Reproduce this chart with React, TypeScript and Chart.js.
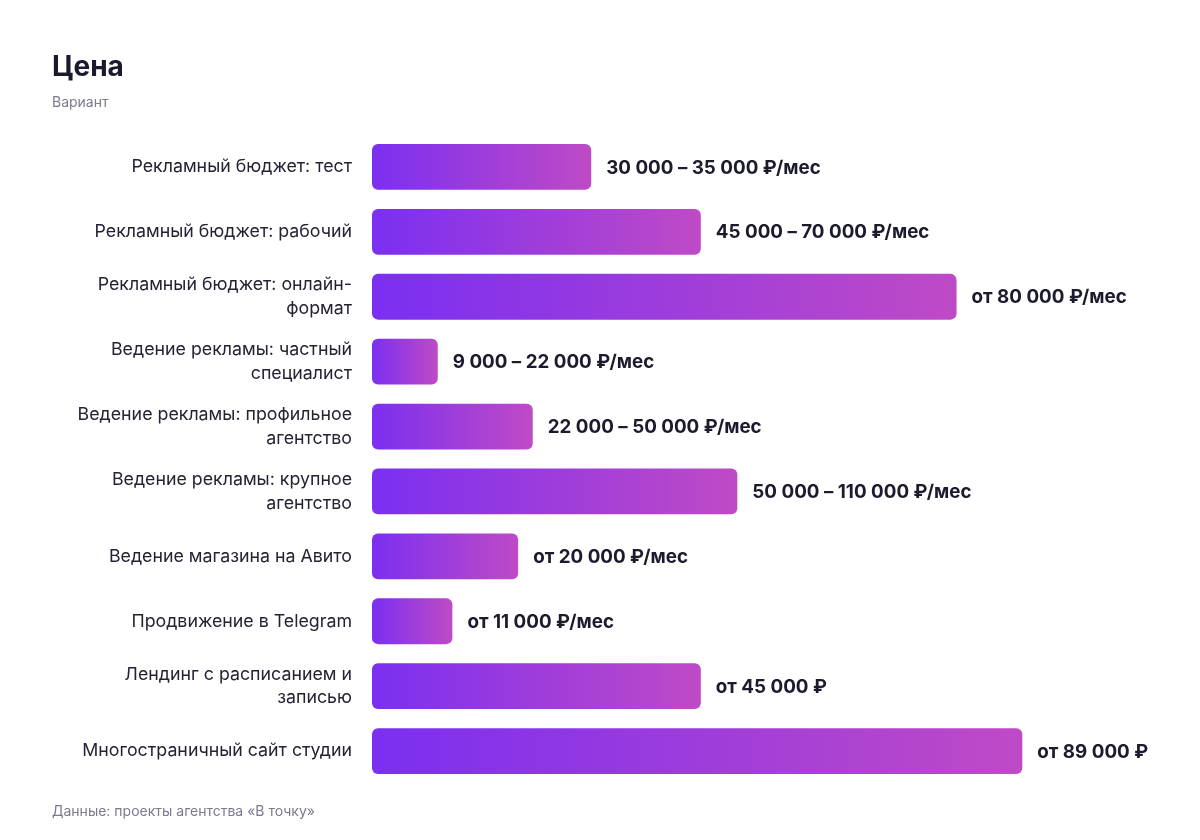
import React, { useEffect, useRef } from "react";
import { Chart, registerables } from "chart.js";

Chart.register(...registerables);

const categories: (string | string[])[] = [
  "Рекламный бюджет: тест",
  "Рекламный бюджет: рабочий",
  ["Рекламный бюджет: онлайн-", "формат"],
  ["Ведение рекламы: частный", "специалист"],
  ["Ведение рекламы: профильное", "агентство"],
  ["Ведение рекламы: крупное", "агентство"],
  "Ведение магазина на Авито",
  "Продвижение в Telegram",
  ["Лендинг с расписанием и", "записью"],
  "Многостраничный сайт студии",
];

const values: number[] = [30000, 45000, 80000, 9000, 22000, 50000, 20000, 11000, 45000, 89000];

const valueLabels: string[] = [
  "30 000 – 35 000 ₽/мес",
  "45 000 – 70 000 ₽/мес",
  "от 80 000 ₽/мес",
  "9 000 – 22 000 ₽/мес",
  "22 000 – 50 000 ₽/мес",
  "50 000 – 110 000 ₽/мес",
  "от 20 000 ₽/мес",
  "от 11 000 ₽/мес",
  "от 45 000 ₽",
  "от 89 000 ₽",
];

const FONT = 'Inter, "Liberation Sans", Arial, sans-serif';
const GRAD_START = "#7B2FF1";
const GRAD_END = "#BF4AC6";

const valueLabelPlugin = {
  id: "valueLabels",
  afterDatasetsDraw(chart: any) {
    const ctx = chart.ctx;
    const meta = chart.getDatasetMeta(0);
    ctx.save();
    ctx.font = `bold 18.8px ${FONT}`;
    ctx.fillStyle = "#1b1b2e";
    ctx.textAlign = "left";
    ctx.textBaseline = "middle";
    meta.data.forEach((el: any, i: number) => {
      ctx.fillText(valueLabels[i], el.x + 15, el.y + 1);
    });
    ctx.restore();
  },
};

export default function App() {
  const canvasRef = useRef<HTMLCanvasElement | null>(null);

  useEffect(() => {
    if (!canvasRef.current) return;
    const chart = new Chart(canvasRef.current, {
      type: "bar",
      data: {
        labels: categories,
        datasets: [
          {
            data: values,
            backgroundColor: (c: any) => {
              const ch = c.chart;
              const xs = ch.scales?.x;
              if (!ch.chartArea || !xs || c.raw == null) return GRAD_START;
              const x0 = xs.getPixelForValue(0);
              const x1 = xs.getPixelForValue(c.raw);
              if (!isFinite(x0) || !isFinite(x1) || x1 <= x0) return GRAD_START;
              const g = ch.ctx.createLinearGradient(x0, 0, x1, 0);
              g.addColorStop(0, GRAD_START);
              g.addColorStop(1, GRAD_END);
              return g;
            },
            borderRadius: 6,
            borderSkipped: false,
            borderWidth: 0,
            barPercentage: 0.705,
            categoryPercentage: 1,
          },
        ],
      },
      options: {
        indexAxis: "y",
        responsive: false,
        animation: false,
        maintainAspectRatio: false,
        layout: { padding: { top: 134.5, bottom: 56.5, left: 52, right: 52 } },
        plugins: {
          legend: { display: false },
          title: { display: false },
          tooltip: { enabled: false },
        },
        scales: {
          x: {
            display: false,
            min: 0,
            max: 106200,
          },
          y: {
            grid: { display: false, drawTicks: false },
            border: { display: false },
            afterFit: (s: any) => {
              s.width = 320;
            },
            ticks: {
              padding: 20,
              color: "#232333",
              font: { family: FONT, size: 17.8, lineHeight: 1.33 },
            },
          },
        },
      },
      plugins: [valueLabelPlugin],
    });
    return () => chart.destroy();
  }, []);

  return (
    <div
      style={{
        position: "fixed",
        left: 0,
        top: 0,
        width: 1200,
        height: 840,
        background: "#ffffff",
        fontFamily: FONT,
      }}
    >
      <canvas
        ref={canvasRef}
        width={1200}
        height={840}
        style={{ position: "absolute", left: 0, top: 0, width: 1200, height: 840 }}
      />
      <div
        style={{
          position: "absolute",
          left: 52,
          top: 51.5,
          fontSize: 28,
          lineHeight: 1,
          fontWeight: 700,
          color: "#1a1a2e",
          whiteSpace: "nowrap",
        }}
      >
        Цена
      </div>
      <div
        style={{
          position: "absolute",
          left: 52,
          top: 95.2,
          fontSize: 14,
          lineHeight: 1,
          color: "#7b7a8e",
          whiteSpace: "nowrap",
        }}
      >
        Вариант
      </div>
      <div
        style={{
          position: "absolute",
          left: 52,
          top: 803.5,
          fontSize: 14,
          lineHeight: 1,
          color: "#7b7a8e",
          whiteSpace: "nowrap",
        }}
      >
        Данные: проекты агентства «В точку»
      </div>
    </div>
  );
}
